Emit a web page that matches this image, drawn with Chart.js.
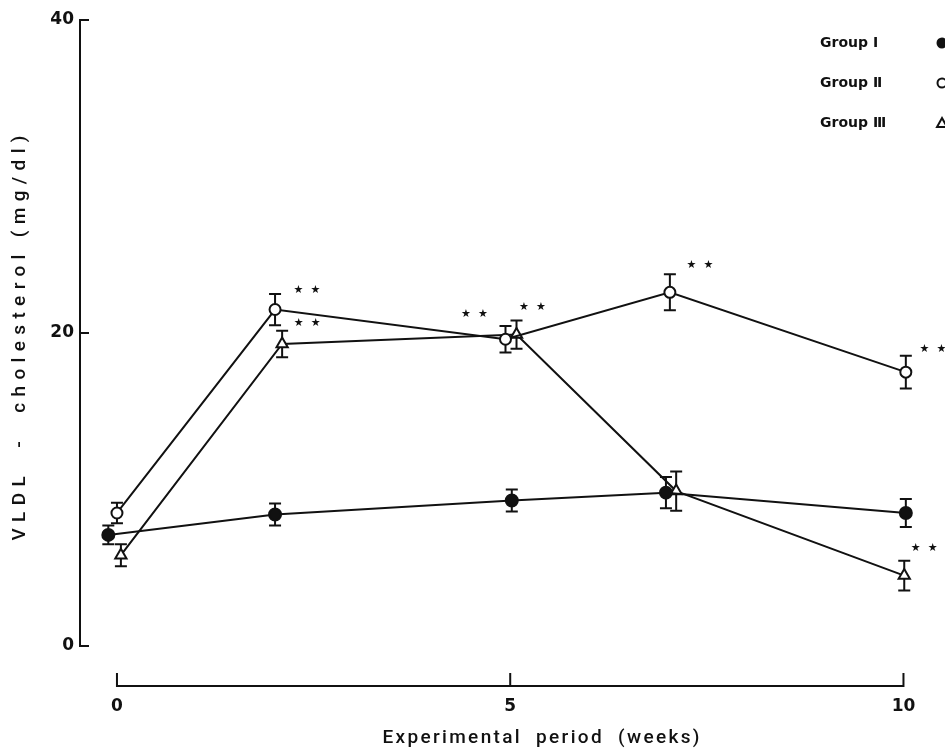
<!DOCTYPE html>
<html>
<head>
<meta charset="utf-8">
<script src="https://cdn.jsdelivr.net/npm/chart.js@4/dist/chart.umd.min.js"></script>
<style>
  html, body { margin: 0; padding: 0; background: #fff; }
  #wrap { width: 945px; height: 751px; }
</style>
</head>
<body>
<div id="wrap"><canvas id="c" width="945" height="751"></canvas></div>
<script>
// ---- data -------------------------------------------------------------
const weekTicks = [0, 5, 10];
const cholTicks = [0, 20, 40];
const groupNames = ['Group \u2160', 'Group \u2161', 'Group \u2162'];
const xTitle = 'Experimental  period  (weeks)';
const yTitle = 'VLDL  -  cholesterol (mg/dl)';

// sampling weeks as plotted (symbols are staggered slightly so they don't overlap)
const weeksI   = [-0.11, 2.01, 5.02, 6.98, 10.03];
const weeksII  = [0.00, 2.01, 4.94, 7.03, 10.03];
const weeksIII = [0.05, 2.10, 5.08, 7.11, 10.01];

// VLDL-cholesterol, mean (mg/dl)
const meanI   = [7.1, 8.4, 9.3, 9.8, 8.5];
const meanII  = [8.5, 21.5, 19.6, 22.6, 17.5];
const meanIII = [5.8, 19.3, 19.9, 9.9, 4.5];

// standard error (mg/dl)
const semI   = [0.6, 0.7, 0.7, 1.0, 0.9];
const semII  = [0.65, 1.0, 0.85, 1.15, 1.05];
const semIII = [0.7, 0.85, 0.9, 1.25, 0.95];

// significance versus Group I
const sigI   = ['', '', '', '', ''];
const sigII  = ['', '**', '**', '**', '**'];
const sigIII = ['', '**', '**', '', '**'];

// ---- helpers ----------------------------------------------------------
const toPoints = (xs, ys) => xs.map((x, i) => ({ x: x, y: ys[i] }));
const INK = '#111';

// vertical error bars with caps, drawn under the symbols
const errorBarPlugin = {
  id: 'errorBars',
  beforeDatasetsDraw(chart, args, opts) {
    const ctx = chart.ctx;
    const ys = chart.scales.y;
    ctx.save();
    ctx.strokeStyle = INK;
    ctx.lineWidth = 2;
    chart.data.datasets.forEach((ds, i) => {
      const meta = chart.getDatasetMeta(i);
      meta.data.forEach((pt, j) => {
        const v = ds.data[j].y, e = ds.sem[j];
        const yt = ys.getPixelForValue(v + e);
        const yb = ys.getPixelForValue(v - e);
        const x = pt.x, hw = opts.cap;
        ctx.beginPath();
        ctx.moveTo(x, yt); ctx.lineTo(x, yb);
        ctx.moveTo(x - hw, yt); ctx.lineTo(x + hw, yt);
        ctx.moveTo(x - hw, yb); ctx.lineTo(x + hw, yb);
        ctx.stroke();
      });
    });
    ctx.restore();
  }
};

// significance stars next to the symbols
const starPlugin = {
  id: 'stars',
  afterDatasetsDraw(chart, args, opts) {
    const ctx = chart.ctx;
    ctx.save();
    ctx.fillStyle = INK;
    ctx.font = '11px "DejaVu Sans"';
    ctx.textAlign = 'center';
    ctx.textBaseline = 'middle';
    chart.data.datasets.forEach((ds, i) => {
      const meta = chart.getDatasetMeta(i);
      const offs = opts.offsets[i];
      meta.data.forEach((pt, j) => {
        if (!ds.sig[j]) return;
        const [dx, dy] = offs[j];
        const cx = pt.x + dx, cy = pt.y + dy;
        const n = ds.sig[j].length;
        for (let k = 0; k < n; k++) {
          ctx.fillText('\u2605', cx + (k - (n - 1) / 2) * opts.gap, cy);
        }
      });
    });
    ctx.restore();
  }
};

// axis lines: left axis with inward ticks, offset bottom axis with upward ticks
const axesPlugin = {
  id: 'axesLines',
  afterDraw(chart, args, opts) {
    const ctx = chart.ctx;
    const xs = chart.scales.x, ys = chart.scales.y;
    const area = chart.chartArea;
    ctx.save();
    ctx.strokeStyle = INK;
    ctx.lineWidth = 2;
    // y axis
    const yTop = ys.getPixelForValue(cholTicks[cholTicks.length - 1]);
    const yBot = ys.getPixelForValue(cholTicks[0]);
    ctx.beginPath();
    ctx.moveTo(area.left, yTop - 1); ctx.lineTo(area.left, yBot + 1);
    cholTicks.forEach(t => {
      const y = ys.getPixelForValue(t);
      ctx.moveTo(area.left, y); ctx.lineTo(area.left + opts.yTick, y);
    });
    ctx.stroke();
    // x axis (drawn below the plotting area)
    const yx = area.bottom + opts.xOffset;
    const x0 = xs.getPixelForValue(weekTicks[0]);
    const x1 = xs.getPixelForValue(weekTicks[weekTicks.length - 1]);
    ctx.beginPath();
    ctx.moveTo(x0, yx); ctx.lineTo(x1, yx);
    weekTicks.forEach(t => {
      const x = xs.getPixelForValue(t);
      ctx.moveTo(x, yx + 1); ctx.lineTo(x, yx - opts.xTick);
    });
    ctx.stroke();
    ctx.restore();
  }
};

// axis titles, spread to the width of the printed captions
function spreadText(ctx, text, cx, cy, width, angle) {
  ctx.save();
  ctx.translate(cx, cy);
  ctx.rotate(angle);
  ctx.letterSpacing = '0px';
  const w0 = ctx.measureText(text).width;
  const sp = Math.max(0, (width - w0) / (text.length - 1));
  ctx.letterSpacing = sp + 'px';
  ctx.textAlign = 'left';
  ctx.textBaseline = 'middle';
  ctx.fillText(text, -width / 2, 0);
  ctx.restore();
}
const titlePlugin = {
  id: 'axisTitles',
  afterDraw(chart, args, opts) {
    const ctx = chart.ctx;
    ctx.save();
    ctx.fillStyle = INK;
    ctx.font = opts.x.font;
    spreadText(ctx, xTitle, opts.x.cx, opts.x.cy, opts.x.width, 0);
    ctx.font = opts.y.font;
    spreadText(ctx, yTitle, opts.y.cx, opts.y.cy, opts.y.width, -Math.PI / 2);
    ctx.restore();
  }
};

// legend: name followed by the symbol, stacked in the upper right
const legendPlugin = {
  id: 'symbolLegend',
  afterDraw(chart, args, opts) {
    const ctx = chart.ctx;
    ctx.save();
    ctx.font = 'bold 14px "DejaVu Sans"';
    ctx.textAlign = 'left';
    ctx.textBaseline = 'middle';
    chart.data.datasets.forEach((ds, i) => {
      const y = opts.top + i * opts.step;
      ctx.fillStyle = INK;
      ctx.fillText(ds.label, opts.textX, y);
      ctx.strokeStyle = INK;
      ctx.lineWidth = 2;
      const mx = opts.markX;
      ctx.beginPath();
      if (ds.pointStyle === 'triangle') {
        const r = 5;
        ctx.moveTo(mx, y - r); ctx.lineTo(mx + r, y + r * 0.8); ctx.lineTo(mx - r, y + r * 0.8); ctx.closePath();
      } else {
        ctx.arc(mx, y, 4.5, 0, Math.PI * 2);
      }
      ctx.fillStyle = ds.pointBackgroundColor;
      ctx.fill();
      ctx.stroke();
    });
    ctx.restore();
  }
};

const lineStyle = {
  borderColor: INK,
  borderWidth: 2,
  tension: 0,
  pointBorderColor: INK,
  pointBorderWidth: 2,
  clip: false
};

new Chart(document.getElementById('c'), {
  type: 'line',
  data: {
    datasets: [
      Object.assign({ label: groupNames[0], data: toPoints(weeksI, meanI), sem: semI, sig: sigI,
        pointStyle: 'circle', pointRadius: 6, pointBackgroundColor: INK }, lineStyle),
      Object.assign({ label: groupNames[1], data: toPoints(weeksII, meanII), sem: semII, sig: sigII,
        pointStyle: 'circle', pointRadius: 5.5, pointBackgroundColor: '#fff' }, lineStyle),
      Object.assign({ label: groupNames[2], data: toPoints(weeksIII, meanIII), sem: semIII, sig: sigIII,
        pointStyle: 'triangle', pointRadius: 6.5, pointBackgroundColor: '#fff' }, lineStyle)
    ]
  },
  options: {
    responsive: false,
    animation: false,
    events: [],
    layout: { padding: { top: 20, right: 0, bottom: 0, left: 0 } },
    plugins: {
      legend: { display: false },
      tooltip: { enabled: false },
      errorBars: { cap: 6 },
      stars: {
        gap: 17,
        offsets: [
          [],
          [null, [32, -19], [-31, -25], [30, -27], [27, -23]],
          [null, [25, -21], [16, -27], null, [20, -27]]
        ]
      },
      axesLines: { yTick: 9, xOffset: 40, xTick: 13 },
      axisTitles: {
        x: { font: '500 19px Roboto', cx: 541, cy: 738, width: 317 },
        y: { font: '500 19px Roboto', cx: 20, cy: 338, width: 405 }
      },
      symbolLegend: { textX: 820, markX: 942, top: 43, step: 40 }
    },
    scales: {
      x: {
        type: 'linear',
        min: -0.47,
        max: 10.42,
        afterFit(scale) {
          scale.height = 105;
          scale.paddingLeft = 0;
          scale.paddingRight = 0;
        },
        afterBuildTicks(scale) { scale.ticks = weekTicks.map(v => ({ value: v })); },
        grid: { display: false, drawTicks: false },
        border: { display: false },
        ticks: {
          padding: 50,
          color: INK,
          font: { family: '"DejaVu Sans"', size: 17, weight: 'bold' },
          maxRotation: 0
        },
        title: { display: false }
      },
      y: {
        type: 'linear',
        min: 0,
        max: 40,
        afterFit(scale) {
          scale.width = 80;
          scale.paddingTop = 0;
          scale.paddingBottom = 0;
        },
        afterBuildTicks(scale) { scale.ticks = cholTicks.map(v => ({ value: v })); },
        grid: { display: false, drawTicks: false },
        border: { display: false },
        ticks: {
          padding: 6,
          color: INK,
          font: { family: '"DejaVu Sans"', size: 17, weight: 'bold' }
        },
        title: { display: false }
      }
    }
  },
  plugins: [errorBarPlugin, starPlugin, axesPlugin, titlePlugin, legendPlugin]
});
</script>
</body>
</html>
